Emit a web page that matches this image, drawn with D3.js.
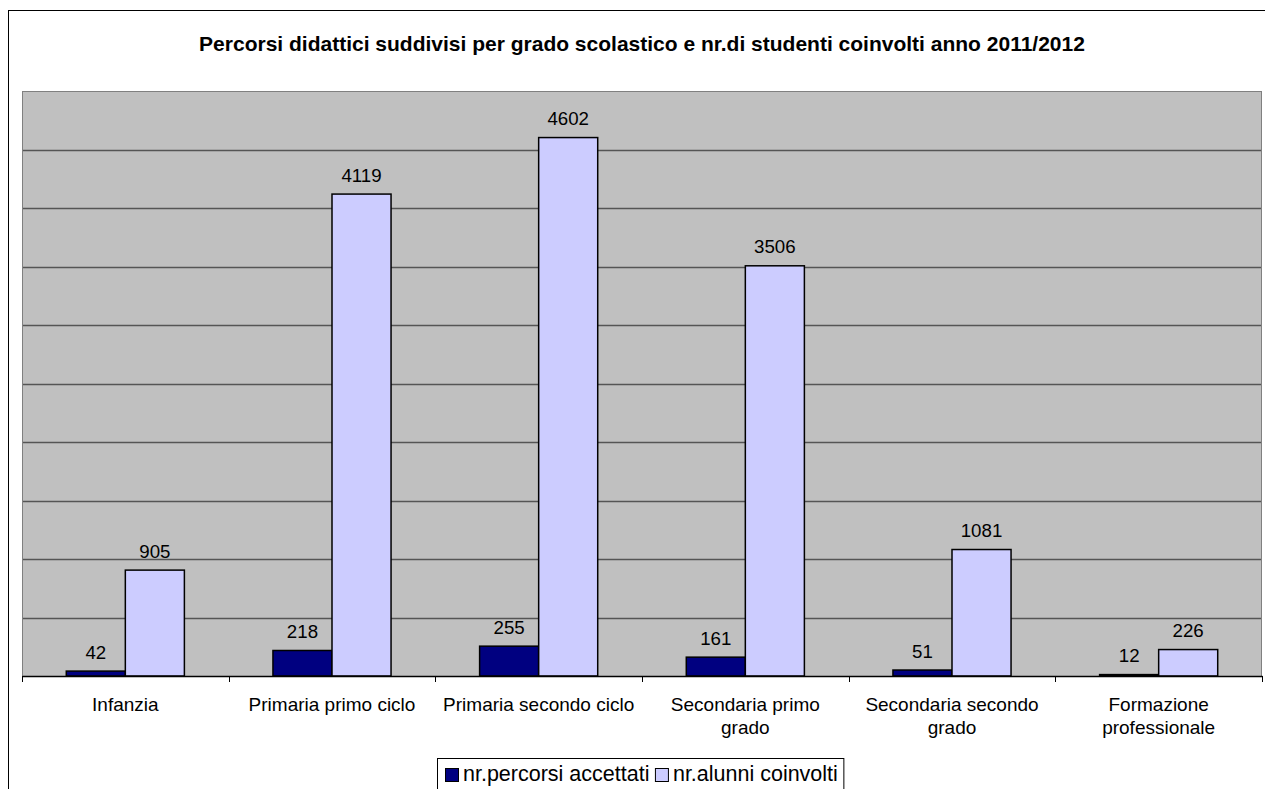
<!DOCTYPE html>
<html>
<head>
<meta charset="utf-8">
<script src="https://cdn.jsdelivr.net/npm/d3@7"></script>
<style>
  html, body { margin: 0; padding: 0; background: #fff; }
  svg { display: block; font-family: "Liberation Sans", Arial, sans-serif; }
</style>
</head>
<body>
<svg id="chart" width="1265" height="789"></svg>
<script>
// School levels (line breaks mark wrapped axis labels)
const categories = [
  "Infanzia",
  "Primaria primo ciclo",
  "Primaria secondo ciclo",
  "Secondaria primo\ngrado",
  "Secondaria secondo\ngrado",
  "Formazione\nprofessionale"
];
const seriesNames = ["nr.percorsi accettati", "nr.alunni coinvolti"];
const percorsiAccettati = [42, 218, 255, 161, 51, 12];
const alunniCoinvolti = [905, 4119, 4602, 3506, 1081, 226];
const yTicks = [0, 500, 1000, 1500, 2000, 2500, 3000, 3500, 4000, 4500, 5000];

const colors = ["#000080", "#CCCCFF"];
const series = [percorsiAccettati, alunniCoinvolti];

const svg = d3.select("#chart");
const plot = { left: 22, right: 1262, top: 91, bottom: 676 };

// Outer chart frame
svg.append("rect")
  .attr("x", 8.5).attr("y", 10.5)
  .attr("width", 1400).attr("height", 1000)
  .attr("fill", "#fff").attr("stroke", "#000").attr("stroke-width", 1);

// Title
svg.append("text")
  .attr("x", 642).attr("y", 51)
  .attr("text-anchor", "middle")
  .attr("font-weight", "bold")
  .attr("font-size", 21)
  .text("Percorsi didattici suddivisi per grado scolastico e nr.di studenti coinvolti anno 2011/2012");

const x0 = d3.scaleBand()
  .domain(categories)
  .range([plot.left, plot.right])
  .paddingInner(0).paddingOuter(0);

const bw = x0.bandwidth() * 2 / 7; // Excel-like 150% gap width
const x1 = d3.scaleBand()
  .domain(d3.range(series.length))
  .range([x0.bandwidth() / 2 - bw, x0.bandwidth() / 2 + bw]);

const y = d3.scaleLinear()
  .domain([0, 5000])
  .range([plot.bottom, plot.top]);

// Plot background
svg.append("rect")
  .attr("x", plot.left).attr("y", plot.top)
  .attr("width", plot.right - plot.left)
  .attr("height", plot.bottom - plot.top)
  .attr("fill", "#C0C0C0");

// Horizontal gridlines
svg.append("g")
  .selectAll("line")
  .data(yTicks.slice(1, -1))
  .join("line")
  .attr("x1", plot.left).attr("x2", plot.right)
  .attr("y1", d => Math.round(y(d)) + 0.5)
  .attr("y2", d => Math.round(y(d)) + 0.5)
  .attr("stroke", "#555")
  .attr("stroke-width", 1.3);

// Plot border
svg.append("rect")
  .attr("x", plot.left + 0.5).attr("y", plot.top + 0.5)
  .attr("width", plot.right - plot.left - 1)
  .attr("height", plot.bottom - plot.top)
  .attr("fill", "none")
  .attr("stroke", "#808080");

// Bars
const groups = svg.append("g")
  .selectAll("g")
  .data(categories)
  .join("g")
  .attr("transform", d => `translate(${x0(d)},0)`);

groups.each(function(cat, ci) {
  const g = d3.select(this);
  series.forEach((vals, si) => {
    const v = vals[ci];
    g.append("rect")
      .attr("x", x1(si))
      .attr("y", y(v))
      .attr("width", x1.bandwidth())
      .attr("height", y(0) - y(v))
      .attr("fill", colors[si])
      .attr("stroke", "#000")
      .attr("stroke-width", 1.5);
    g.append("text")
      .attr("x", x1(si) + x1.bandwidth() / 2)
      .attr("y", y(v) - 12.5)
      .attr("text-anchor", "middle")
      .attr("font-size", 18.7)
      .attr("fill", "#000")
      .text(v);
  });
});

// Category axis
const xAxis = d3.axisBottom(x0).tickSize(0).tickFormat("");
const axisG = svg.append("g")
  .attr("transform", `translate(0,${plot.bottom})`)
  .call(xAxis);
axisG.select(".domain").attr("stroke", "#000").attr("stroke-width", 1.5);

// Tick marks at category boundaries
const bounds = categories.map(c => x0(c)).concat([plot.right]);
svg.append("g")
  .selectAll("line")
  .data(bounds)
  .join("line")
  .attr("x1", d => Math.round(d) + 0.5).attr("x2", d => Math.round(d) + 0.5)
  .attr("y1", plot.bottom).attr("y2", plot.bottom + 6)
  .attr("stroke", "#000");

// Category labels
svg.append("g")
  .selectAll("text")
  .data(categories)
  .join("text")
  .attr("x", d => x0(d) + x0.bandwidth() / 2)
  .attr("y", 711)
  .attr("text-anchor", "middle")
  .attr("font-size", 19)
  .each(function(d) {
    const lines = d.split("\n");
    d3.select(this).selectAll("tspan")
      .data(lines)
      .join("tspan")
      .attr("x", x0(d) + x0.bandwidth() / 2)
      .attr("dy", (l, i) => i === 0 ? 0 : 23)
      .text(l => l);
  });

// Legend
const legend = svg.append("g");
const legendBox = legend.append("rect")
  .attr("fill", "#fff").attr("stroke", "#000").attr("stroke-width", 1);
let lx = 445;
let textEnd = lx;
seriesNames.forEach((name, i) => {
  legend.append("rect")
    .attr("x", lx + 0.5).attr("y", 768.5)
    .attr("width", 13).attr("height", 13)
    .attr("fill", colors[i]).attr("stroke", "#000");
  const t = legend.append("text")
    .attr("x", lx + 18).attr("y", 781)
    .attr("font-size", 21.5)
    .text(name);
  textEnd = lx + 18 + t.node().getComputedTextLength();
  lx = textEnd + 5.5;
});
legendBox
  .attr("x", 437.5).attr("y", 758.5)
  .attr("width", textEnd + 6 - 437.5).attr("height", 32);
</script>
</body>
</html>
